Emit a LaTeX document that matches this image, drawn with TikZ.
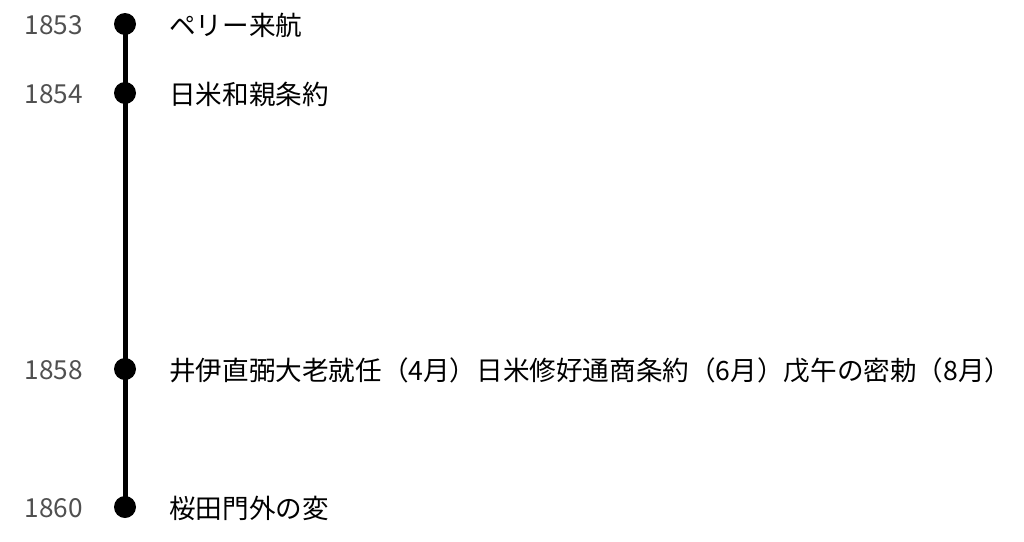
\documentclass[tikz,border=0pt]{standalone}
\usepackage{fontspec}
\setmainfont{Noto Sans CJK JP}
\begin{document}
\begin{tikzpicture}[x=1pt,y=-1pt,
  dot/.style={circle,fill=black,inner sep=0pt,minimum size=22pt},
  year/.style={anchor=east,text=yeargray,font=\fontsize{26.2}{30}\selectfont,inner sep=0pt},
  event/.style={anchor=west,text=black,font=\fontsize{26.6}{30}\selectfont,inner sep=0pt}]
\definecolor{yeargray}{HTML}{505050}
\useasboundingbox (0,0) rectangle (1024,541);
\node[dot] (d1) at (125,24) {};
\node[dot] (d2) at (125,93) {};
\node[dot] (d3) at (125,369) {};
\node[dot] (d4) at (125,507) {};
\draw[line width=5pt] (d1.center) -- (d4.center);
\node[year] (y1) at (83,25) {1853};
\node[year] (y2) at (83,94) {1854};
\node[year] (y3) at (83,370) {1858};
\node[year] (y4) at (83,508) {1860};
\node[event] (e1) at (169,25) {ペリー来航};
\node[event] (e2) at (169,94) {日米和親条約};
\node[event] (e3) at (169,370) {井伊直弼大老就任（4月）日米修好通商条約（6月）戊午の密勅（8月）};
\node[event] (e4) at (169,508) {桜田門外の変};
\end{tikzpicture}
\end{document}
